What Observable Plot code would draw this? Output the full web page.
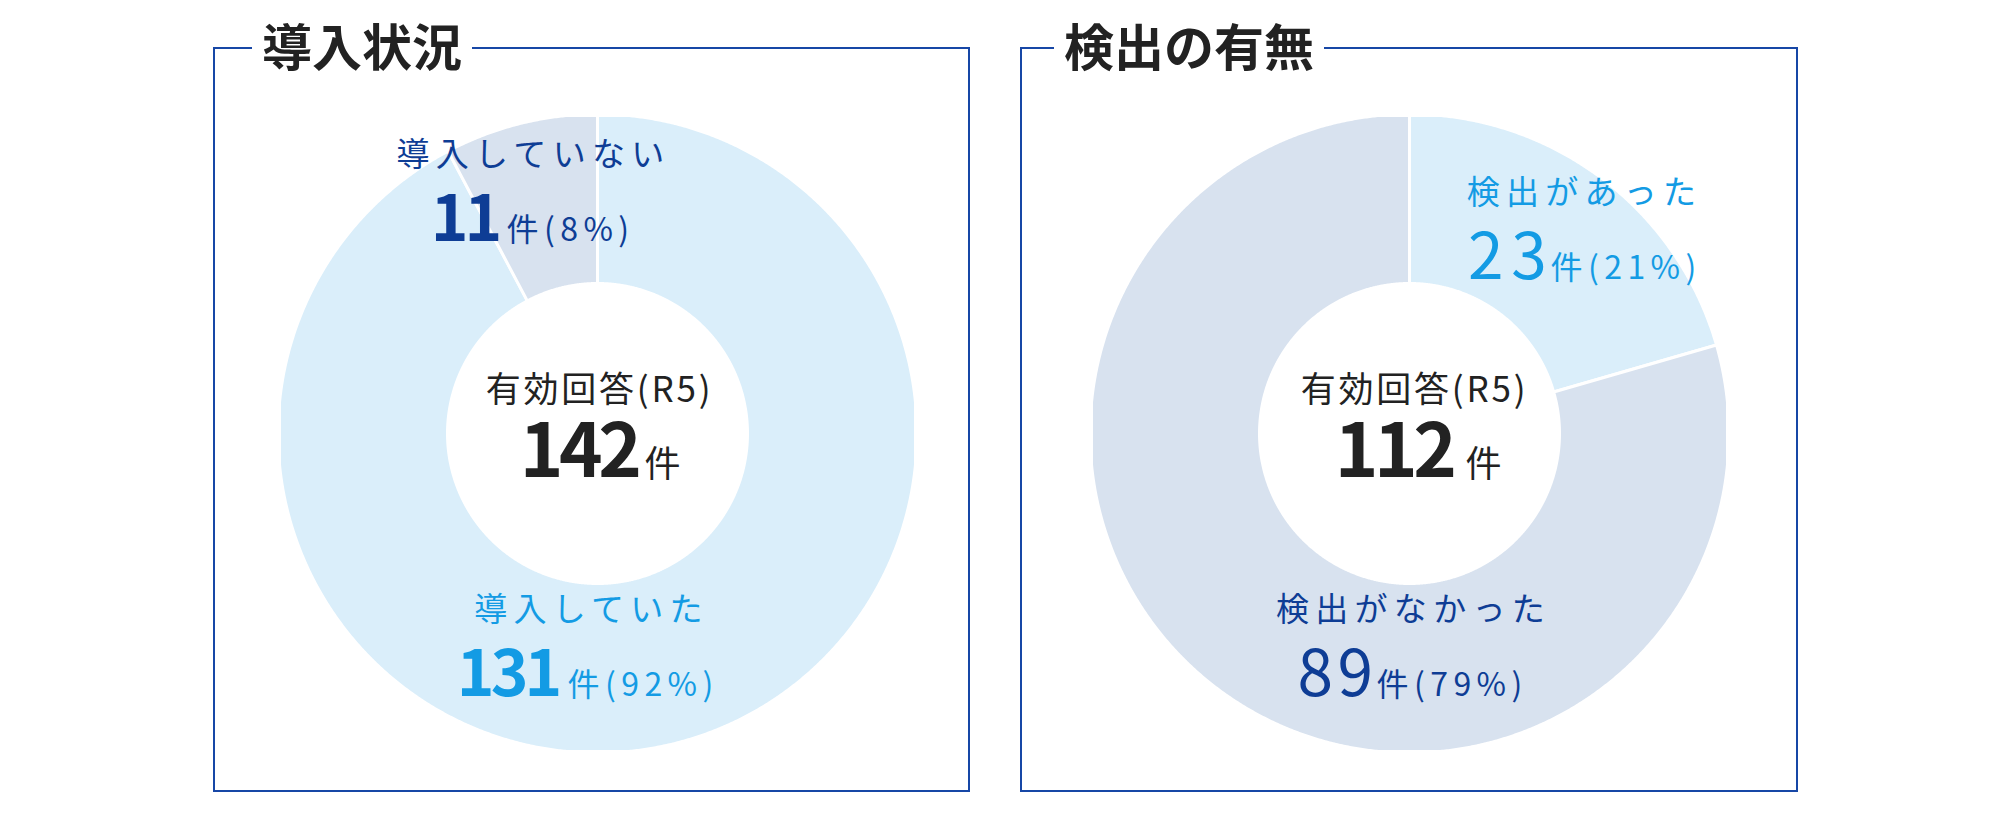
<!DOCTYPE html>
<html lang="ja">
<head>
<meta charset="utf-8">
<script src="https://cdn.jsdelivr.net/npm/d3@7"></script>
<script src="https://cdn.jsdelivr.net/npm/@observablehq/plot@0.6"></script>
<style>
  html, body { margin: 0; padding: 0; background: #fff; }
  #root { position: relative; width: 2000px; height: 819px; background: #fff; overflow: hidden;
          font-family: "Noto Sans CJK JP", "Noto Sans", sans-serif; }
  .box { position: absolute; box-sizing: border-box; border: 2px solid #1747a6; }
  .title { position: absolute; background: #fff; padding: 0 10px; font-size: 50px; line-height: 50px;
           font-weight: 700; color: #222; white-space: nowrap; }
  .chart { position: absolute; }
  .chart svg { overflow: visible; }
</style>
</head>
<body>
<div id="root">
  <div class="box" style="left:213px;top:47px;width:757px;height:745px;">
    <span class="title" id="t1" style="left:37px;top:-30px;"></span>
  </div>
  <div class="box" style="left:1020px;top:47px;width:778px;height:745px;">
    <span class="title" id="t2" style="left:32px;top:-30px;"></span>
  </div>
  <div class="chart" id="c1" style="left:279px;top:115px;"></div>
  <div class="chart" id="c2" style="left:1091px;top:115px;"></div>
</div>
<script>
// ---- data ----
const leftTitle = "導入状況";
const leftCategories = ["導入していた", "導入していない"];
const leftValues = [131, 11];
const leftPercents = [92, 8];

const rightTitle = "検出の有無";
const rightCategories = ["検出があった", "検出がなかった"];
const rightValues = [23, 89];
const rightPercents = [21, 79];

const centerLabel = "有効回答(R5)";
const unit = "件";
const totals = [142, 112];

// ---- style ----
const LIGHT = "#daeefa", GREY = "#d8e2ef";
const DARK = "#0e3d95", BRIGHT = "#139be4", INK = "#222";
const SIZE = 636, R = 319.5, R0 = 150;
const LS = {cat: "0.19em", suffix: "0.17em", center: "0.08em", light: "0.12em", light2: "0.07em", bold: "-0.06em", none: "0"};

document.getElementById("t1").textContent = leftTitle;
document.getElementById("t2").textContent = rightTitle;

function sliceFeatures(categories, values) {
  const arcs = d3.pie().sort(null).value(d => d.value)(
    categories.map((c, i) => ({category: c, value: values[i]}))
  );
  return arcs.map(a => {
    const n = Math.max(2, Math.ceil((a.endAngle - a.startAngle) / 0.005));
    const ring = [];
    for (let k = 0; k <= n; k++) {
      const t = a.startAngle + (a.endAngle - a.startAngle) * k / n;
      ring.push([R * Math.sin(t), -R * Math.cos(t)]);
    }
    for (let k = n; k >= 0; k--) {
      const t = a.startAngle + (a.endAngle - a.startAngle) * k / n;
      ring.push([R0 * Math.sin(t), -R0 * Math.cos(t)]);
    }
    ring.push(ring[0]);
    return {type: "Feature", properties: {category: a.data.category, value: a.data.value},
            geometry: {type: "Polygon", coordinates: [ring]}};
  });
}

function txt(str, spacing, o) {
  const m = Plot.text([str], {text: d => d, frameAnchor: "middle", lineAnchor: "bottom",
                              textAnchor: "middle", ...o});
  m.__ls = LS[spacing];
  return m;
}

function donut(categories, values, colors, textMarks) {
  const half = SIZE / 2;
  const svg = Plot.plot({
    width: SIZE, height: SIZE, margin: 0,
    style: {fontFamily: "'Noto Sans CJK JP', 'Noto Sans', sans-serif", background: "transparent", overflow: "visible"},
    projection: {type: "identity", domain: {type: "MultiPoint", coordinates: [[-half, -half], [half, half]]}},
    color: {domain: categories, range: colors},
    marks: [
      Plot.geo(sliceFeatures(categories, values), {fill: d => d.properties.category, stroke: "white", strokeWidth: 3}),
      ...textMarks
    ]
  });
  const groups = svg.querySelectorAll('g[aria-label="text"]');
  groups.forEach((g, i) => {
    const ls = textMarks[i] && textMarks[i].__ls;
    if (ls) g.querySelectorAll("text").forEach(t => t.style.letterSpacing = ls);
  });
  return svg;
}

// left donut
const leftMarks = [
  txt(leftCategories[1], "cat", {dx: -64, dy: -268, fontSize: 33, fill: DARK}),
  txt(String(leftValues[1]), "bold", {dx: -99, dy: -193, fontSize: 64, fontWeight: 700, fill: DARK, textAnchor: "end"}),
  txt(`${unit}(${leftPercents[1]}%)`, "suffix", {dx: -91, dy: -193, fontSize: 32, fill: DARK, textAnchor: "start"}),
  txt(centerLabel, "center", {dx: 2, dy: -32, fontSize: 35, fill: INK}),
  txt(String(totals[0]), "bold", {dx: 40, dy: 43, fontSize: 74, fontWeight: 700, fill: INK, textAnchor: "end"}),
  txt(unit, "none", {dx: 47, dy: 43, fontSize: 36, fill: INK, textAnchor: "start"}),
  txt(leftCategories[0], "cat", {dx: -6, dy: 187, fontSize: 33, fill: BRIGHT}),
  txt(String(leftValues[0]), "bold", {dx: -39, dy: 262, fontSize: 64, fontWeight: 700, fill: BRIGHT, textAnchor: "end"}),
  txt(`${unit}(${leftPercents[0]}%)`, "suffix", {dx: -30, dy: 262, fontSize: 32, fill: BRIGHT, textAnchor: "start"})
];
document.getElementById("c1").appendChild(donut(leftCategories, leftValues, [LIGHT, GREY], leftMarks));

// right donut
const rightMarks = [
  txt(rightCategories[0], "cat", {dx: 175, dy: -230, fontSize: 33, fill: BRIGHT}),
  txt(String(rightValues[0]), "light", {dx: 145, dy: -155, fontSize: 64, fontWeight: 400, fill: BRIGHT, textAnchor: "end"}),
  txt(`${unit}(${rightPercents[0]}%)`, "suffix", {dx: 141, dy: -155, fontSize: 32, fill: BRIGHT, textAnchor: "start"}),
  txt(centerLabel, "center", {dx: 5, dy: -32, fontSize: 35, fill: INK}),
  txt(String(totals[1]), "bold", {dx: 43, dy: 43, fontSize: 74, fontWeight: 700, fill: INK, textAnchor: "end"}),
  txt(unit, "none", {dx: 56, dy: 43, fontSize: 36, fill: INK, textAnchor: "start"}),
  txt(rightCategories[1], "cat", {dx: 4, dy: 187, fontSize: 33, fill: DARK}),
  txt(String(rightValues[1]), "light2", {dx: -32, dy: 262, fontSize: 64, fontWeight: 400, fill: DARK, textAnchor: "end"}),
  txt(`${unit}(${rightPercents[1]}%)`, "suffix", {dx: -33, dy: 262, fontSize: 32, fill: DARK, textAnchor: "start"})
];
document.getElementById("c2").appendChild(donut(rightCategories, rightValues, [LIGHT, GREY], rightMarks));
</script>
</body>
</html>
